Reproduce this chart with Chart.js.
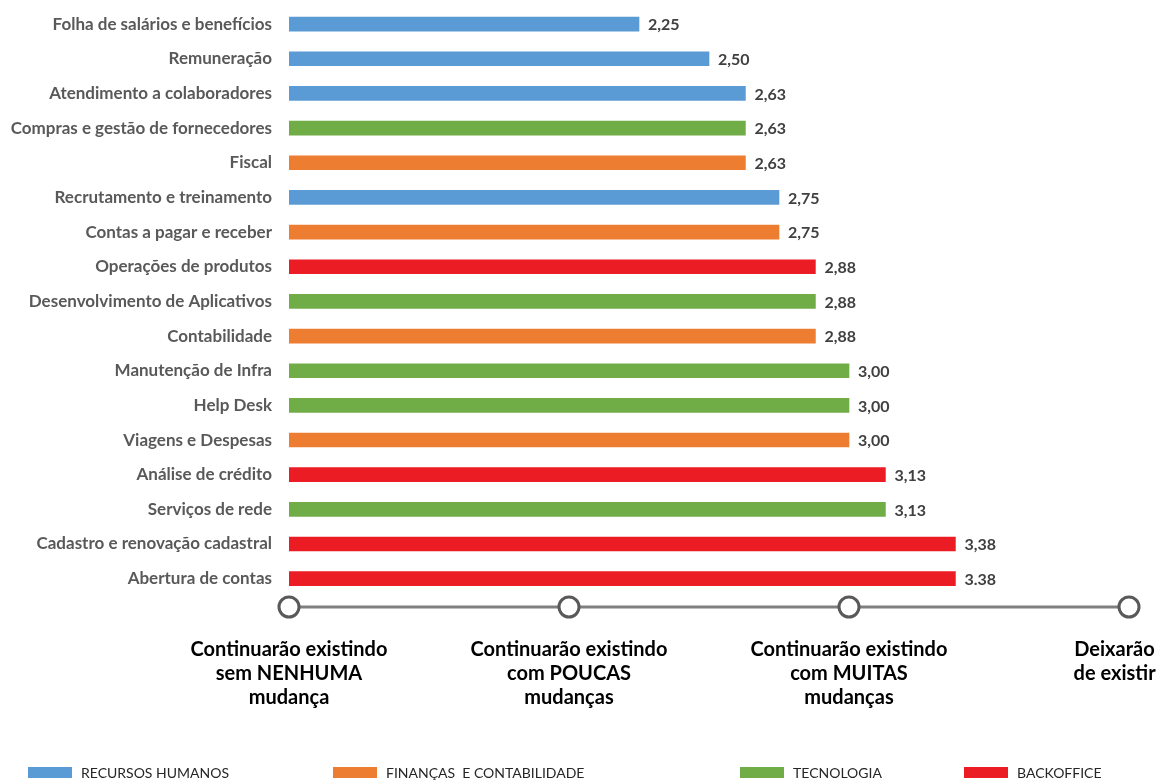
<!DOCTYPE html>
<html>
<head>
<meta charset="utf-8">
<script src="https://cdn.jsdelivr.net/npm/chart.js@4.4.1/dist/chart.umd.min.js"></script>
<style>
    html, body { margin: 0; padding: 0; background: #fff; }
    #wrap { width: 1163px; height: 781px; position: relative; }
</style>
</head>
<body>
<div id="wrap"><canvas id="chart"></canvas></div>
<script>
// Processos e a nota média de expectativa de mudança
var processes = [
    'Folha de salários e benefícios', 'Remuneração', 'Atendimento a colaboradores',
    'Compras e gestão de fornecedores', 'Fiscal', 'Recrutamento e treinamento',
    'Contas a pagar e receber', 'Operações de produtos', 'Desenvolvimento de Aplicativos',
    'Contabilidade', 'Manutenção de Infra', 'Help Desk', 'Viagens e Despesas',
    'Análise de crédito', 'Serviços de rede', 'Cadastro e renovação cadastral', 'Abertura de contas'
];
var scoreText = ['2,25', '2,50', '2,63', '2,63', '2,63', '2,75', '2,75', '2,88', '2,88',
    '2,88', '3,00', '3,00', '3,00', '3,13', '3,13', '3,38', '3.38'];
var processArea = ['RH', 'RH', 'RH', 'TI', 'FIN', 'RH', 'FIN', 'BO', 'TI',
    'FIN', 'TI', 'TI', 'FIN', 'BO', 'TI', 'BO', 'BO'];

var areaKeys = ['RH', 'FIN', 'TI', 'BO'];
var areaNames = ['RECURSOS HUMANOS', 'FINANÇAS  E CONTABILIDADE', 'TECNOLOGIA', 'BACKOFFICE'];
var areaColors = ['#5b9bd5', '#ed7d31', '#70ad47', '#ec1c24'];

var scaleValues = [1, 2, 3, 4];
var scaleLabels = [
    ['Continuarão existindo', 'sem NENHUMA', 'mudança'],
    ['Continuarão existindo', 'com POUCAS', 'mudanças'],
    ['Continuarão existindo', 'com MUITAS', 'mudanças'],
    ['Deixarão', 'de existir']
];

var scores = scoreText.map(function (s) { return parseFloat(s.replace(',', '.')); });

var FONT = 'Lato, "Open Sans", sans-serif';
// recuo do último rótulo da escala para não sair da margem direita
var TAIL = '\u00a0\u00a0\u00a0\u00a0\u00a0\u00a0';

var datasets = areaKeys.map(function (key, i) {
    return {
        label: areaNames[i],
        data: scores.map(function (v, j) { return processArea[j] === key ? v : null; }),
        backgroundColor: areaColors[i],
        borderWidth: 0,
        barThickness: 14,
        grouped: false
    };
});

// texto com o valor ao fim de cada barra
var valueLabels = {
    id: 'valueLabels',
    afterDatasetsDraw: function (chart) {
        var ctx = chart.ctx;
        ctx.save();
        ctx.font = 'bold 16px ' + FONT;
        ctx.fillStyle = '#404040';
        ctx.textBaseline = 'middle';
        ctx.textAlign = 'left';
        chart.data.datasets.forEach(function (ds, di) {
            chart.getDatasetMeta(di).data.forEach(function (bar, j) {
                if (ds.data[j] === null) return;
                ctx.fillText(scoreText[j], bar.x + 9, bar.y + 1);
            });
        });
        ctx.restore();
    }
};

// linha da escala com os marcadores circulares
var scaleLine = {
    id: 'scaleLine',
    afterDraw: function (chart) {
        var ctx = chart.ctx;
        var x = chart.scales.x;
        var y = chart.chartArea.bottom + 11;
        ctx.save();
        ctx.strokeStyle = '#7f7f7f';
        ctx.lineWidth = 3;
        ctx.beginPath();
        ctx.moveTo(x.getPixelForValue(scaleValues[0]), y);
        ctx.lineTo(x.getPixelForValue(scaleValues[scaleValues.length - 1]), y);
        ctx.stroke();
        scaleValues.forEach(function (v) {
            ctx.beginPath();
            ctx.arc(x.getPixelForValue(v), y, 10, 0, Math.PI * 2);
            ctx.fillStyle = '#fff';
            ctx.fill();
            ctx.strokeStyle = '#595959';
            ctx.lineWidth = 3;
            ctx.stroke();
        });
        ctx.restore();
    }
};

// legenda em linha no rodapé
var legendX = [28, 333, 740, 964];
var areaLegend = {
    id: 'areaLegend',
    afterDraw: function (chart) {
        var ctx = chart.ctx;
        var y = 772;
        ctx.save();
        ctx.font = '14px ' + FONT;
        ctx.textBaseline = 'middle';
        areaNames.forEach(function (name, i) {
            ctx.fillStyle = areaColors[i];
            ctx.fillRect(legendX[i], y - 5, 44, 11);
            ctx.fillStyle = '#262626';
            ctx.fillText(name, legendX[i] + 53, y + 1);
        });
        ctx.restore();
    }
};

new Chart(document.getElementById('chart'), {
    type: 'bar',
    data: {
        labels: processes,
        datasets: datasets
    },
    plugins: [valueLabels, scaleLine, areaLegend],
    options: {
        indexAxis: 'y',
        responsive: true,
        maintainAspectRatio: false,
        animation: false,
        layout: {
            padding: { top: 0, right: 34, bottom: 0, left: 0 }
        },
        plugins: {
            legend: { display: false },
            tooltip: { enabled: false }
        },
        scales: {
            y: {
                grid: {
                    display: true, drawOnChartArea: false, drawTicks: true,
                    tickLength: 17, tickColor: 'rgba(0,0,0,0)'
                },
                border: { display: false },
                ticks: {
                    padding: 0,
                    color: '#595959',
                    font: { family: FONT, size: 17, weight: 'bold', lineHeight: 0.8 }
                },
                afterFit: function (scale) { scale.width = 289; }
            },
            x: {
                min: 1,
                max: 4,
                grid: {
                    display: true, drawOnChartArea: false, drawTicks: true,
                    tickLength: 42, tickColor: 'rgba(0,0,0,0)'
                },
                border: { display: false },
                ticks: {
                    stepSize: 1,
                    padding: 0,
                    maxRotation: 0,
                    autoSkip: false,
                    color: '#000',
                    font: { family: FONT, size: 20, weight: 'bold', lineHeight: 24 / 20 },
                    callback: function (v) {
                        var i = scaleValues.indexOf(v);
                        if (i < 0) return '';
                        if (i === scaleValues.length - 1) {
                            return scaleLabels[i].map(function (s) { return s + TAIL; });
                        }
                        return scaleLabels[i];
                    }
                },
                afterFit: function (scale) {
                    scale.height = 185;
                    scale.paddingRight = 0;
                }
            }
        }
    }
});
</script>
</body>
</html>
